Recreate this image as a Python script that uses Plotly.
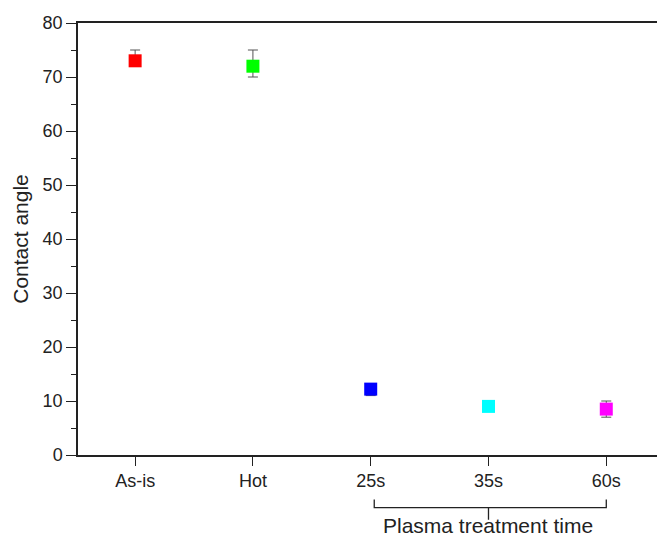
import plotly.graph_objects as go

categories = ["As-is", "Hot", "25s", "35s", "60s"]
angles = [73.0, 72.0, 12.2, 9.0, 8.5]
err_plus = [2.0, 3.0, 1.0, 0.5, 1.5]
err_minus = [1.0, 2.0, 1.2, 0.5, 1.5]
colors = ["#ff0000", "#00ff00", "#0000ff", "#00ffff", "#ff00ff"]
y_ticks = [0, 10, 20, 30, 40, 50, 60, 70, 80]

xpos = list(range(len(categories)))

fig = go.Figure()
for i in xpos:
    fig.add_trace(go.Scatter(
        x=[xpos[i]], y=[angles[i]], mode="markers",
        marker=dict(symbol="square", size=13, color=colors[i], line=dict(width=0)),
        error_y=dict(type="data", symmetric=False, array=[err_plus[i]], arrayminus=[err_minus[i]],
                     color="#555555", thickness=1, width=5),
        showlegend=False,
    ))

# page has an 8px body margin, so the figure is sized to fit inside the window
fig.update_layout(
    width=657, height=530,
    margin=dict(l=70, r=1, t=15, b=83),
    plot_bgcolor="white", paper_bgcolor="white",
    font=dict(family="Liberation Sans, Arial, sans-serif", size=18, color="#222222"),
    xaxis=dict(
        range=[-0.485, 4.49], tickmode="array", tickvals=xpos, ticktext=categories,
        showgrid=False, zeroline=False, showline=True, linecolor="#222222", linewidth=1.5,
        mirror=True, ticks="outside", ticklen=9, tickwidth=1, tickcolor="#222222",
    ),
    yaxis=dict(
        range=[0, 80], tickmode="array", tickvals=y_ticks,
        showgrid=False, zeroline=False, showline=True, linecolor="#222222", linewidth=1.5,
        mirror=False, ticks="outside", ticklen=10, tickwidth=1, tickcolor="#222222",
        minor=dict(dtick=5, ticks="outside", ticklen=5, tickwidth=1, tickcolor="#222222"),
        title=dict(text="Contact angle", font=dict(size=21), standoff=8),
    ),
)

# light right frame edge
fig.add_shape(type="line", xref="paper", yref="paper", x0=0.999, x1=0.999, y0=0, y1=1,
              line=dict(color="#999999", width=1.5))

# bracket under the plasma-treatment categories
fig.add_shape(type="path", xref="x", yref="paper",
              path="M 2.03,-0.103 L 2.03,-0.122 L 4.0,-0.122 L 4.0,-0.103 M 3.0,-0.122 L 3.0,-0.150",
              line=dict(color="#222222", width=1.3))
fig.add_annotation(x=3.0, y=-0.194, xref="x", yref="paper", text="Plasma treatment time",
                   showarrow=False, yanchor="bottom", font=dict(size=21, color="#222222"))

fig.write_html("out.html")
